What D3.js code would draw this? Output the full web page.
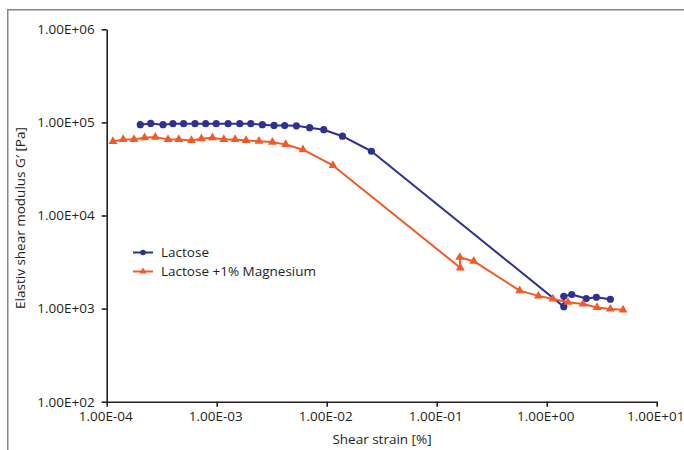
<!DOCTYPE html>
<html>
<head>
<meta charset="utf-8">
<script src="https://cdn.jsdelivr.net/npm/d3@7/dist/d3.min.js"></script>
<style>
  html, body { margin: 0; padding: 0; background: #fff; }
  svg { display: block; }
  text { font-family: "Open Sans", "Noto Sans", sans-serif; fill: #231f20; }
</style>
</head>
<body>
<div id="chart"></div>
<script>
// Shear strain [%] and G' [Pa]
var lactoseX = [2.02e-4, 2.51e-4, 3.25e-4, 4.0e-4, 5.0e-4, 6.35e-4, 7.94e-4, 9.9e-4, 1.27e-3, 1.62e-3,
                2.04e-3, 2.6e-3, 3.32e-3, 4.15e-3, 5.3e-3, 7.0e-3, 9.4e-3, 1.39e-2, 2.55e-2,
                1.43, 1.43, 1.69, 2.29, 2.83, 3.79];
var lactoseY = [94500, 97500, 94500, 96800, 96800, 96800, 96800, 96800, 96800, 96800,
                96800, 94500, 92900, 92500, 91800, 87700, 83500, 71100, 49000,
                1050, 1355, 1416, 1282, 1324, 1260];

var magX = [1.14e-4, 1.41e-4, 1.77e-4, 2.21e-4, 2.77e-4, 3.61e-4, 4.52e-4, 5.89e-4, 7.26e-4, 9.14e-4,
            1.16e-3, 1.47e-3, 1.85e-3, 2.42e-3, 3.21e-3, 4.24e-3, 6.09e-3, 1.14e-2,
            0.164, 0.162, 0.217, 0.568, 0.84, 1.14, 1.56, 2.14, 2.87, 3.79, 4.94];
var magY = [62500, 65700, 65700, 68500, 69500, 65700, 65700, 64000, 66800, 68500,
            65700, 65700, 64000, 62900, 61400, 58000, 50900, 34500,
            2740, 3560, 3230, 1560, 1370, 1270, 1170, 1120, 1030, 990, 970];

var seriesNames = ['Lactose', 'Lactose +1% Magnesium'];

var xTicks = [1e-4, 1e-3, 1e-2, 1e-1, 1, 10];
var xTickLabels = ['1.00E-04', '1.00E-03', '1.00E-02', '1.00E-01', '1.00E+00', '1.00E+01'];
var yTicks = [1e2, 1e3, 1e4, 1e5, 1e6];
var yTickLabels = ['1.00E+02', '1.00E+03', '1.00E+04', '1.00E+05', '1.00E+06'];

(function () {
  var W = 684, H = 450;
  var BLUE = '#2e3192', ORANGE = '#f15a29';

  var svg = d3.select('#chart').append('svg').attr('width', W).attr('height', H);

  // outer frame (only top/left edges show in the window)
  svg.append('rect').attr('x', 7.75).attr('y', 9.75).attr('width', 720).attr('height', 500)
    .attr('fill', 'none').attr('stroke', '#858585').attr('stroke-width', 1.5);

  var x = d3.scaleLog().domain([1e-4, 10]).range([106.7, 656.7]);
  var y = d3.scaleLog().domain([1e2, 1e6]).range([401.7, 29.3]);

  var xAxis = svg.append('g').attr('transform', 'translate(0,' + y.range()[0] + ')')
    .call(d3.axisBottom(x).tickValues(xTicks).tickSizeInner(5).tickSizeOuter(0)
      .tickFormat(function (d, i) { return xTickLabels[i]; }));
  var yAxis = svg.append('g').attr('transform', 'translate(' + x.range()[0] + ',0)')
    .call(d3.axisLeft(y).tickValues(yTicks).tickSizeInner(5).tickSizeOuter(0)
      .tickFormat(function (d, i) { return yTickLabels[i]; }));

  [xAxis, yAxis].forEach(function (g) {
    g.select('.domain').attr('stroke', '#231f20').attr('stroke-width', 1.6);
    g.selectAll('.tick line').attr('stroke', '#231f20').attr('stroke-width', 1.6);
    g.selectAll('.tick text').attr('font-size', 13.5).attr('font-family', null);
  });
  xAxis.selectAll('.tick text').attr('y', 10).attr('dx', -1.5);
  yAxis.selectAll('.tick text').attr('x', -12);

  svg.append('text').attr('x', 382).attr('y', 444).attr('text-anchor', 'middle')
    .attr('font-size', 13.5).text('Shear strain [%]');
  svg.append('text').attr('transform', 'translate(25,218) rotate(-90)').attr('text-anchor', 'middle')
    .attr('font-size', 13.5).text('Elastiv shear modulus G\u2032 [Pa]');

  var line = d3.line().x(function (d) { return x(d[0]); }).y(function (d) { return y(d[1]); });
  var lac = d3.zip(lactoseX, lactoseY);
  var mag = d3.zip(magX, magY);
  var tri = d3.symbol().type(d3.symbolTriangle);

  svg.append('path').datum(lac).attr('d', line).attr('fill', 'none')
    .attr('stroke', BLUE).attr('stroke-width', 2).attr('stroke-linejoin', 'round');
  svg.append('g').selectAll('circle').data(lac).join('circle')
    .attr('cx', function (d) { return x(d[0]); }).attr('cy', function (d) { return y(d[1]); })
    .attr('r', 3.6).attr('fill', BLUE);

  svg.append('path').datum(mag).attr('d', line).attr('fill', 'none')
    .attr('stroke', ORANGE).attr('stroke-width', 2).attr('stroke-linejoin', 'round');
  svg.append('g').selectAll('path').data(mag).join('path')
    .attr('d', tri.size(34))
    .attr('transform', function (d) { return 'translate(' + x(d[0]) + ',' + y(d[1]) + ')'; })
    .attr('fill', ORANGE);

  // legend
  var leg = svg.append('g');
  [BLUE, ORANGE].forEach(function (c, i) {
    var ly = 252.5 + i * 19;
    leg.append('line').attr('x1', 133).attr('x2', 153).attr('y1', ly).attr('y2', ly)
      .attr('stroke', c).attr('stroke-width', 2);
    if (i === 0) {
      leg.append('circle').attr('cx', 143).attr('cy', ly).attr('r', 2.8).attr('fill', c);
    } else {
      leg.append('path').attr('d', tri.size(22)).attr('transform', 'translate(143,' + ly + ')').attr('fill', c);
    }
    leg.append('text').attr('x', 161).attr('y', ly + 4.8).attr('font-size', 13.5).text(seriesNames[i]);
  });
})();
</script>
</body>
</html>
